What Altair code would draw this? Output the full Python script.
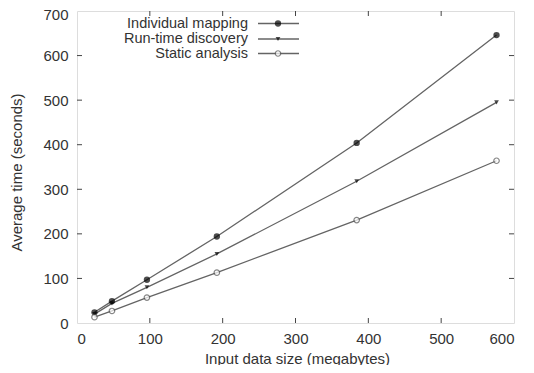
import altair as alt
import pandas as pd

# Data
sizes = [24, 48, 96, 192, 384, 576]
individual = [24, 49, 97, 194, 404, 646]
runtime = [20, 44, 80, 155, 318, 495]
static = [13, 27, 57, 113, 231, 364]
series_names = ["Individual mapping", "Run-time discovery", "Static analysis"]
x_ticks = [0, 100, 200, 300, 400, 500, 600]
y_ticks = [0, 100, 200, 300, 400, 500, 600, 700]

W, H = 437, 312
FONT = "Liberation Sans"
LINE = "#646464"
TXT = "#333333"

rows = []
for name, vals in zip(series_names, [individual, runtime, static]):
    for s, v in zip(sizes, vals):
        rows.append({"series": name, "size": s, "time": v})
df = pd.DataFrame(rows)

xscale = alt.Scale(domain=[0, 600], nice=False)
yscale = alt.Scale(domain=[0, 700], nice=False)

base = alt.Chart(df)

lines = base.mark_line(color=LINE, strokeWidth=1.3).encode(
    x=alt.X("size:Q", scale=xscale,
            axis=alt.Axis(values=x_ticks, tickSize=0, domain=False, grid=False,
                          labelPadding=8, labelFontSize=15, labelFont=FONT, labelColor=TXT,
                          title="Input data size (megabytes)", titleFontSize=15,
                          titleFont=FONT, titleFontWeight="normal", titleColor=TXT,
                          titleX=220, titleY=35, titleBaseline="middle")),
    y=alt.Y("time:Q", scale=yscale,
            axis=alt.Axis(values=y_ticks, tickSize=0, domain=False, grid=False,
                          labelPadding=9, labelFontSize=15, labelFont=FONT, labelColor=TXT,
                          labelOffset={"condition": {"test": "datum.value == 700", "value": 3}, "value": 0},
                          title="Average time (seconds)", titleFontSize=15,
                          titleFont=FONT, titleFontWeight="normal", titleColor=TXT,
                          titleX=-61, titleY=161, titleBaseline="middle", titleAngle=270)),
    detail="series:N",
)

marker_styles = {
    "Individual mapping": dict(shape="circle", size=40, filled=True, color="black"),
    "Run-time discovery": dict(shape="triangle-down", size=22, filled=True, color="black"),
    "Static analysis": dict(shape="circle", size=30, filled=True, fill="white", stroke="#555555", strokeWidth=1.2),
}

layers = [lines]
for name in series_names:
    st = marker_styles[name]
    layers.append(
        base.transform_filter(alt.datum.series == name).mark_point(**st).encode(
            x=alt.X("size:Q", scale=xscale), y=alt.Y("time:Q", scale=yscale)
        )
    )

# Inward ticks on all four sides (gnuplot style)
xt = pd.DataFrame({"v": x_ticks[1:-1]})
yt = pd.DataFrame({"v": y_ticks[1:-1]})
tick_style = dict(color="#444444", strokeWidth=1)
layers += [
    alt.Chart(xt).mark_rule(**tick_style).encode(x=alt.X("v:Q", scale=xscale), y=alt.value(H), y2=alt.value(H - 5)),
    alt.Chart(xt).mark_rule(**tick_style).encode(x=alt.X("v:Q", scale=xscale), y=alt.value(0), y2=alt.value(5)),
    alt.Chart(yt).mark_rule(**tick_style).encode(y=alt.Y("v:Q", scale=yscale), x=alt.value(0), x2=alt.value(5)),
    alt.Chart(yt).mark_rule(**tick_style).encode(y=alt.Y("v:Q", scale=yscale), x=alt.value(W), x2=alt.value(W - 5)),
]

# Legend (gnuplot style: label, then line sample with marker)
legend_y = [12.5, 28, 42.5]
for name, ly in zip(series_names, legend_y):
    ldf = pd.DataFrame({"label": [name]})
    layers.append(alt.Chart(ldf).mark_text(align="right", baseline="middle", font=FONT,
                                           fontSize=14.5, color=TXT).encode(
        text="label:N", x=alt.value(171), y=alt.value(ly)))
    layers.append(alt.Chart(ldf).mark_rule(color=LINE, strokeWidth=1.3).encode(
        x=alt.value(181), x2=alt.value(222), y=alt.value(ly)))
    layers.append(alt.Chart(ldf).mark_point(**marker_styles[name]).encode(
        x=alt.value(201), y=alt.value(ly)))

chart = alt.layer(*layers).properties(
    width=W, height=H,
    autosize="none",
    padding={"left": 69, "top": 3, "right": 12, "bottom": 42},
).configure_view(stroke="#444444", strokeWidth=1.2).configure(background="white")

chart.save("out.html", embed_options={"renderer": "svg", "actions": False})
